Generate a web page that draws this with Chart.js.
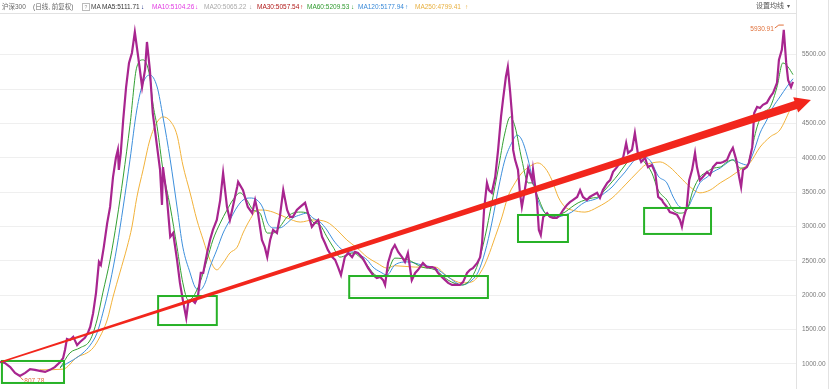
<!DOCTYPE html>
<html>
<head>
<meta charset="utf-8">
<script src="https://cdn.jsdelivr.net/npm/chart.js@4/dist/chart.umd.min.js"></script>
<style>
  body { margin: 0; background: #fff; }
  #wrap { position: relative; width: 830px; height: 389px; overflow: hidden; }
  #head { position: absolute; left: 0; top: 0; width: 830px; height: 14px;
          font: 6.5px "Liberation Sans", "Noto Sans CJK SC", sans-serif; color: #666; }
  #head span { position: absolute; top: 3px; white-space: nowrap; line-height: 8px; }
  #head .q { width: 6px; height: 6px; border: 1px solid #bbb; font-size: 5px; line-height: 6px;
             text-align: center; color: #999; top: 3px; }
  canvas { position: absolute; left: 0; top: 0; }
</style>
</head>
<body>
<div id="wrap">
  <canvas id="klineChart" width="830" height="389"></canvas>
  <div id="head">
    <span style="left:2px">沪深300</span>
    <span style="left:33px">(日线, 前复权)</span>
    <span class="q" style="left:82px">?</span>
    <span style="left:91px;color:#444">MA</span>
    <span style="left:102px;color:#333">MA5:5111.71</span><span style="left:141px;color:#1b2a80">↓</span>
    <span style="left:152px;color:#e23be2">MA10:5104.26</span><span style="left:195px;color:#e23be2">↓</span>
    <span style="left:204px;color:#aaa">MA20:5065.22</span><span style="left:249px;color:#aaa">↓</span>
    <span style="left:257px;color:#b01818">MA30:5057.54</span><span style="left:300px;color:#d02020">↑</span>
    <span style="left:307px;color:#2f9a2f">MA60:5209.53</span><span style="left:351px;color:#2f9a2f">↓</span>
    <span style="left:358px;color:#3a8ad8">MA120:5177.94</span><span style="left:405px;color:#3a8ad8">↑</span>
    <span style="left:415px;color:#e8b040">MA250:4799.41</span><span style="left:465px;color:#e8b040">↑</span>
    <span style="left:756px;top:2px;font-size:7px;color:#555">设置均线</span>
    <span style="left:787px;top:2px;font-size:6px;color:#555">▾</span>
  </div>
</div>
<script>
// CSI 300 daily (forward adjusted): [year, close]
const priceSeries = [
  [2005.00,1030],[2005.10,1015],[2005.21,955],[2005.31,870],[2005.41,825],[2005.52,870],[2005.62,925],[2005.72,915],
  [2005.82,900],[2005.93,885],[2006.03,915],[2006.13,955],[2006.24,1030],[2006.30,1085],[2006.34,1205],[2006.38,1365],
  [2006.44,1350],[2006.51,1395],[2006.59,1275],[2006.65,1320],[2006.75,1380],[2006.81,1450],[2006.86,1540],[2006.92,1740],
  [2006.98,2035],[2007.04,2485],[2007.08,2440],[2007.14,2700],[2007.21,3050],[2007.27,3285],[2007.33,3720],[2007.39,4000],
  [2007.43,4115],[2007.45,3825],[2007.49,4070],[2007.54,4550],[2007.60,5030],[2007.66,5380],[2007.72,5525],[2007.78,5830],
  [2007.85,5465],[2007.93,5030],[2007.99,5280],[2008.03,5685],[2008.09,5280],[2008.15,4650],[2008.24,4155],[2008.30,3825],
  [2008.34,3315],[2008.36,3865],[2008.44,3430],[2008.51,2850],[2008.57,2905],[2008.65,2515],[2008.71,2180],[2008.77,1930],
  [2008.84,1670],[2008.88,1890],[2008.96,1930],[2009.02,1890],[2009.08,1975],[2009.14,2325],[2009.19,2325],[2009.27,2615],
  [2009.33,2805],[2009.39,2950],[2009.47,3095],[2009.54,3385],[2009.60,3780],[2009.68,3285],[2009.74,3095],[2009.80,3285],
  [2009.89,3575],[2009.91,3650],[2010.01,3530],[2010.11,3285],[2010.20,3195],[2010.26,3385],[2010.32,3195],[2010.40,2805],
  [2010.46,2700],[2010.51,2555],[2010.57,2805],[2010.63,2950],[2010.71,2905],[2010.77,3140],[2010.84,3530],[2010.92,3240],
  [2010.98,3140],[2011.04,3140],[2011.12,3240],[2011.19,3285],[2011.29,3345],[2011.35,3195],[2011.43,2995],[2011.49,3050],
  [2011.56,3095],[2011.64,2850],[2011.70,2760],[2011.76,2660],[2011.85,2555],[2011.91,2515],[2011.97,2410],[2012.03,2295],
  [2012.11,2555],[2012.18,2615],[2012.26,2555],[2012.32,2630],[2012.38,2615],[2012.48,2540],[2012.59,2395],[2012.69,2295],
  [2012.77,2250],[2012.84,2265],[2012.90,2220],[2012.94,2150],[2013.00,2470],[2013.08,2660],[2013.14,2730],[2013.21,2630],
  [2013.29,2555],[2013.35,2485],[2013.41,2615],[2013.49,2220],[2013.56,2325],[2013.62,2370],[2013.72,2470],[2013.80,2410],
  [2013.91,2410],[2013.97,2395],[2014.03,2325],[2014.11,2265],[2014.18,2220],[2014.24,2180],[2014.32,2150],[2014.38,2150],
  [2014.48,2150],[2014.55,2195],[2014.63,2325],[2014.69,2370],[2014.75,2395],[2014.84,2470],[2014.90,2555],[2014.94,2760],
  [2014.98,3240],[2015.04,3635],[2015.08,3530],[2015.14,3490],[2015.21,3720],[2015.27,4115],[2015.33,4595],[2015.37,4840],
  [2015.43,5175],[2015.47,5320],[2015.52,4945],[2015.56,4595],[2015.58,4115],[2015.62,3970],[2015.68,3825],[2015.72,3490],
  [2015.76,3285],[2015.82,3530],[2015.89,3850],[2015.97,3675],[2015.99,3825],[2016.07,3385],[2016.11,2950],[2016.15,2875],
  [2016.20,3140],[2016.28,3195],[2016.34,3140],[2016.40,3125],[2016.48,3125],[2016.55,3170],[2016.61,3240],[2016.69,3315],
  [2016.75,3355],[2016.81,3385],[2016.90,3430],[2016.96,3530],[2017.02,3430],[2017.10,3385],[2017.16,3430],[2017.23,3460],
  [2017.31,3490],[2017.37,3415],[2017.43,3530],[2017.52,3635],[2017.58,3675],[2017.64,3795],[2017.72,3865],[2017.78,3925],
  [2017.85,4010],[2017.91,4215],[2017.95,4070],[2018.03,4115],[2018.09,4360],[2018.15,4070],[2018.22,3940],[2018.30,4000],
  [2018.36,3865],[2018.44,3895],[2018.51,3780],[2018.57,3430],[2018.65,3385],[2018.67,3355],[2018.75,3285],[2018.81,3210],
  [2018.88,3195],[2018.96,3170],[2019.02,3095],[2019.06,2995],[2019.10,3140],[2019.16,3285],[2019.21,3675],[2019.27,3825],
  [2019.33,4070],[2019.37,3865],[2019.43,3675],[2019.49,3720],[2019.58,3795],[2019.64,3750],[2019.70,3865],[2019.78,3925],
  [2019.85,3925],[2019.91,3940],[2019.99,3970],[2020.05,4070],[2020.11,4145],[2020.18,3970],[2020.24,3720],[2020.28,3575],
  [2020.32,3825],[2020.40,3865],[2020.44,3925],[2020.51,4155],[2020.55,4650],[2020.61,4740],[2020.67,4725],[2020.73,4770],
  [2020.81,4800],[2020.88,4885],[2020.94,4945],[2021.02,5090],[2021.06,5425],[2021.12,5570],[2021.16,5860],[2021.21,5380],
  [2021.25,5130],[2021.31,5030],[2021.35,5105]
];

const ma60Series = [
  [2006.24,940],[2006.44,1160],[2006.65,1235],[2006.86,1350],[2007.00,1640],[2007.12,2035],[2007.27,2515],[2007.41,3095],
  [2007.54,3720],[2007.68,4475],[2007.82,5320],[2007.95,5425],[2008.09,5175],[2008.15,4800],[2008.24,4450],[2008.36,3825],
  [2008.51,3285],[2008.65,2700],[2008.77,2180],[2008.88,1930],[2008.98,1975],[2009.12,2180],[2009.27,2515],[2009.39,2805],
  [2009.54,3050],[2009.68,3240],[2009.80,3385],[2009.95,3490],[2010.09,3385],[2010.22,3240],[2010.36,3195],[2010.51,2905],
  [2010.63,2905],[2010.77,2995],[2010.92,3140],[2011.04,3195],[2011.19,3210],[2011.33,3195],[2011.45,3065],[2011.60,3020],
  [2011.74,2850],[2011.87,2700],[2012.01,2555],[2012.15,2585],[2012.28,2615],[2012.42,2555],[2012.57,2440],[2012.69,2325],
  [2012.84,2265],[2012.98,2325],[2013.14,2540],[2013.41,2515],[2013.70,2410],[2013.97,2370],[2014.24,2220],[2014.53,2150],
  [2014.73,2265],[2014.86,2470],[2015.00,2850],[2015.14,3345],[2015.27,3825],[2015.41,4360],[2015.52,4595],[2015.62,4450],
  [2015.76,3970],[2015.89,3635],[2015.97,3635],[2016.09,3430],[2016.24,3195],[2016.38,3140],[2016.51,3170],[2016.65,3210],
  [2016.79,3285],[2016.92,3345],[2017.06,3385],[2017.21,3415],[2017.33,3430],[2017.47,3530],[2017.62,3650],[2017.74,3750],
  [2017.89,3895],[2018.03,4010],[2018.15,4040],[2018.30,3925],[2018.44,3780],[2018.57,3530],[2018.75,3385],[2018.88,3240],
  [2019.02,3195],[2019.16,3240],[2019.29,3530],[2019.43,3720],[2019.58,3795],[2019.70,3850],[2019.85,3865],[2019.99,3940],
  [2020.11,3970],[2020.26,3850],[2020.40,3865],[2020.46,4010],[2020.61,4450],[2020.73,4650],[2020.88,4740],[2021.02,5030],
  [2021.14,5380],[2021.25,5320],[2021.35,5210]
];

const ma120Series = [
  [2006.24,955],[2006.51,1060],[2006.71,1160],[2006.86,1275],[2007.00,1450],[2007.12,1740],[2007.27,2180],[2007.41,2700],
  [2007.54,3285],[2007.68,3970],[2007.82,4695],[2007.95,5090],[2008.09,5205],[2008.24,5030],[2008.36,4595],[2008.51,3970],
  [2008.65,3285],[2008.77,2700],[2008.92,2325],[2009.02,2120],[2009.12,2075],[2009.23,2180],[2009.33,2410],[2009.47,2660],
  [2009.60,2905],[2009.74,3095],[2009.89,3285],[2010.01,3385],[2010.15,3415],[2010.30,3385],[2010.42,3270],[2010.51,3065],
  [2010.63,2980],[2010.77,2980],[2010.92,3050],[2011.04,3125],[2011.19,3170],[2011.33,3195],[2011.45,3125],[2011.60,3065],
  [2011.74,2950],[2011.87,2805],[2012.01,2690],[2012.15,2630],[2012.28,2630],[2012.42,2585],[2012.57,2515],[2012.69,2410],
  [2012.84,2340],[2012.98,2295],[2013.14,2440],[2013.41,2485],[2013.70,2440],[2013.97,2395],[2014.24,2265],[2014.53,2150],
  [2014.73,2220],[2014.86,2340],[2015.00,2630],[2015.14,3050],[2015.27,3530],[2015.41,3970],[2015.56,4230],[2015.66,4330],
  [2015.76,4260],[2015.89,3970],[2015.97,3720],[2016.09,3385],[2016.24,3195],[2016.38,3140],[2016.51,3140],[2016.65,3170],
  [2016.79,3210],[2016.92,3285],[2017.06,3355],[2017.21,3385],[2017.33,3415],[2017.47,3490],[2017.62,3575],[2017.74,3675],
  [2017.89,3795],[2018.03,3925],[2018.15,4000],[2018.30,4010],[2018.44,3925],[2018.57,3735],[2018.75,3635],[2018.88,3430],
  [2019.02,3285],[2019.16,3270],[2019.29,3430],[2019.43,3635],[2019.58,3720],[2019.70,3795],[2019.85,3850],[2019.99,3925],
  [2020.11,3970],[2020.26,3925],[2020.40,3895],[2020.53,4070],[2020.67,4360],[2020.81,4550],[2020.94,4740],[2021.08,4885],
  [2021.23,5040],[2021.35,5150]
];

const ma250Series = [
  [2005.82,915],[2006.30,925],[2006.59,1100],[2006.79,1160],[2006.92,1235],[2007.06,1395],[2007.21,1640],[2007.33,1975],
  [2007.47,2325],[2007.62,2700],[2007.72,2995],[2007.82,3420],[2007.95,3825],[2008.09,4260],[2008.24,4520],[2008.36,4595],
  [2008.51,4535],[2008.65,4330],[2008.77,3895],[2008.92,3490],[2009.06,3095],[2009.19,2805],[2009.33,2515],[2009.47,2370],
  [2009.60,2470],[2009.74,2615],[2009.89,2700],[2010.01,2905],[2010.15,3095],[2010.30,3240],[2010.42,3240],[2010.63,3210],
  [2010.92,3125],[2011.19,3065],[2011.45,3095],[2011.74,3065],[2011.95,2950],[2012.15,2805],[2012.36,2690],[2012.57,2555],
  [2012.77,2470],[2012.98,2395],[2013.14,2430],[2013.56,2410],[2013.97,2410],[2014.24,2265],[2014.53,2180],[2014.73,2195],
  [2014.94,2370],[2015.06,2555],[2015.21,2850],[2015.35,3140],[2015.47,3430],[2015.62,3635],[2015.76,3780],[2015.97,3895],
  [2016.09,3925],[2016.24,3850],[2016.38,3675],[2016.51,3430],[2016.65,3285],[2016.79,3240],[2017.06,3210],[2017.33,3285],
  [2017.62,3415],[2017.89,3605],[2018.15,3795],[2018.30,3895],[2018.44,3925],[2018.61,3940],[2018.81,3865],[2019.02,3720],
  [2019.23,3575],[2019.43,3490],[2019.64,3530],[2019.85,3635],[2020.05,3720],[2020.26,3825],[2020.46,3925],[2020.67,4155],
  [2020.88,4305],[2021.08,4405],[2021.29,4700],[2021.35,4790]
];

const yTickValues = [1000, 1500, 2000, 2500, 3000, 3500, 4000, 4500, 5000, 5500];
const peakHigh = { x: 2021.16, y: 5930.91 };
const lowPoint = { x: 2005.42, y: 807.78 };

// hand-drawn annotations in the screenshot (data units)
const highlightBoxes = [
  [2005.04, 2006.32, 724, 1044],
  [2008.26, 2009.47, 1567, 1989],
  [2012.20, 2015.06, 1960, 2280],
  [2015.68, 2016.71, 2775, 3168],
  [2018.28, 2019.66, 2892, 3270]
];
const trendArrow = { from: [2005.02, 1029], to: [2021.72, 4841] };

const toXY = s => s.map(([x, y]) => ({ x, y }));

const overlayPlugin = {
  id: 'overlay',
  afterDatasetsDraw(chart) {
    const { ctx, scales: { x, y } } = chart;
    ctx.save();
    // frame lines
    ctx.strokeStyle = '#e2e2e2';
    ctx.lineWidth = 1;
    ctx.beginPath();
    ctx.moveTo(0, 13.5); ctx.lineTo(chart.chartArea.right, 13.5);
    ctx.moveTo(chart.chartArea.right + 0.5, 0); ctx.lineTo(chart.chartArea.right + 0.5, 389);
    ctx.moveTo(828.5, 0); ctx.lineTo(828.5, 389);
    ctx.stroke();

    // peak / low labels
    ctx.font = '6.5px "Liberation Sans", sans-serif';
    ctx.fillStyle = '#e0703a';
    ctx.strokeStyle = '#e0703a';
    const px = x.getPixelForValue(peakHigh.x), py = y.getPixelForValue(peakHigh.y);
    ctx.beginPath();
    ctx.moveTo(px, py); ctx.lineTo(px - 5, py); ctx.lineTo(px - 9, py + 3);
    ctx.stroke();
    ctx.textAlign = 'right'; ctx.textBaseline = 'middle';
    ctx.fillText(peakHigh.y.toFixed(2), px - 10, py + 4);
    const lx = x.getPixelForValue(lowPoint.x), ly = y.getPixelForValue(lowPoint.y);
    ctx.beginPath();
    ctx.moveTo(lx, ly); ctx.lineTo(lx + 3, ly + 3);
    ctx.stroke();
    ctx.textAlign = 'left';
    ctx.fillText(lowPoint.y.toFixed(2), lx + 4, ly + 4);

    // green boxes
    ctx.strokeStyle = '#27b227';
    ctx.lineWidth = 2;
    highlightBoxes.forEach(([x0, x1, y0, y1]) => {
      const l = x.getPixelForValue(x0), r = x.getPixelForValue(x1);
      const t = y.getPixelForValue(y1), b = y.getPixelForValue(y0);
      ctx.strokeRect(l, t, r - l, b - t);
    });

    // tapered red arrow
    const ax = x.getPixelForValue(trendArrow.from[0]), ay = y.getPixelForValue(trendArrow.from[1]);
    const bx = x.getPixelForValue(trendArrow.to[0]), by = y.getPixelForValue(trendArrow.to[1]);
    const len = Math.hypot(bx - ax, by - ay);
    const ux = (bx - ax) / len, uy = (by - ay) / len;
    const nx = -uy, ny = ux;
    const headLen = 16, headHalf = 8, w0 = 0.7, w1 = 4.2;
    const cx = bx - ux * headLen, cy = by - uy * headLen;
    ctx.fillStyle = '#f2261c';
    ctx.beginPath();
    ctx.moveTo(ax + nx * w0, ay + ny * w0);
    ctx.lineTo(cx + nx * w1, cy + ny * w1);
    ctx.lineTo(cx + nx * headHalf, cy + ny * headHalf);
    ctx.lineTo(bx, by);
    ctx.lineTo(cx - nx * headHalf, cy - ny * headHalf);
    ctx.lineTo(cx - nx * w1, cy - ny * w1);
    ctx.lineTo(ax - nx * w0, ay - ny * w0);
    ctx.closePath();
    ctx.fill();
    ctx.restore();
  }
};

const lineStyle = (color, width) => ({
  borderColor: color, borderWidth: width, pointRadius: 0, fill: false
});

new Chart(document.getElementById('klineChart'), {
  type: 'line',
  data: {
    datasets: [
      { label: '沪深300', data: toXY(priceSeries), ...lineStyle('#a8258f', 2.2), tension: 0 },
      { label: 'MA60', data: toXY(ma60Series), ...lineStyle('#33a033', 1), tension: 0.35, cubicInterpolationMode: 'monotone' },
      { label: 'MA120', data: toXY(ma120Series), ...lineStyle('#3d8fdc', 1), tension: 0.35, cubicInterpolationMode: 'monotone' },
      { label: 'MA250', data: toXY(ma250Series), ...lineStyle('#f2b23a', 1), tension: 0.35, cubicInterpolationMode: 'monotone' }
    ]
  },
  options: {
    responsive: false,
    animation: false,
    layout: { padding: { top: 14, bottom: 0, left: 0, right: 0 } },
    plugins: { legend: { display: false }, tooltip: { enabled: false } },
    scales: {
      x: { type: 'linear', min: 2005, max: 2021.412, display: false },
      y: {
        position: 'right',
        min: 693,
        max: 6092,
        afterFit(scale) { scale.width = 34; },
        afterBuildTicks(scale) { scale.ticks = yTickValues.map(v => ({ value: v })); },
        ticks: {
          padding: 0,
          color: '#7a7a7a',
          font: { family: '"Liberation Sans", sans-serif', size: 6.5 },
          callback: v => Number(v).toFixed(2)
        },
        grid: { color: '#efefef', drawTicks: true, tickLength: 6, tickColor: 'rgba(0,0,0,0)' },
        border: { display: false }
      }
    }
  },
  plugins: [overlayPlugin]
});
</script>
</body>
</html>
